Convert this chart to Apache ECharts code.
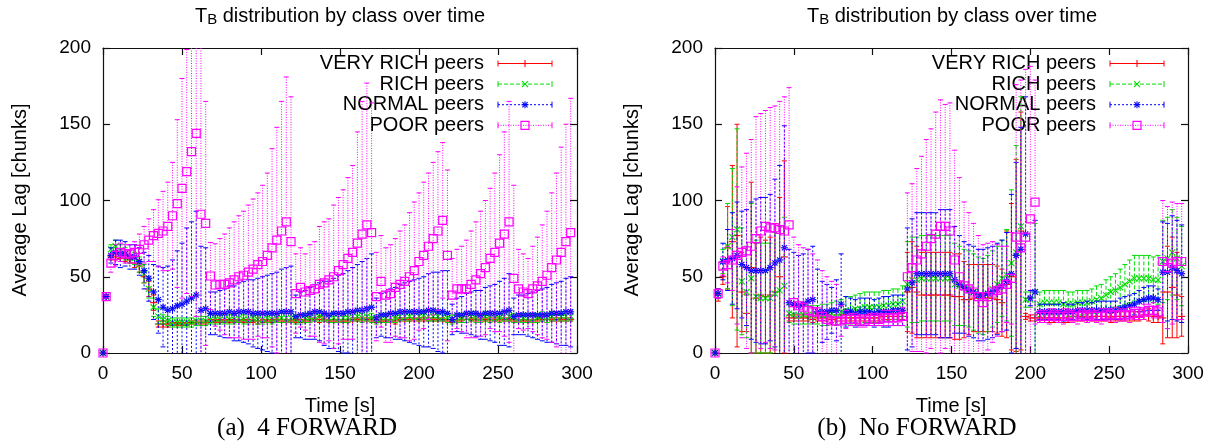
<!DOCTYPE html>
<html><head><meta charset="utf-8">
<script src="https://cdn.jsdelivr.net/npm/echarts@6/dist/echarts.min.js"></script>
<style>html,body{margin:0;padding:0;background:#fff}#c{width:1213px;height:445px}</style>
</head><body><div id="c"></div>
<script>
// ---------------- DATA ----------------
const times = [0,2,5,8,11,14,17,20,23,26, 29,32,35,38,41,44,47,50,53,56, 59,62,65,68,71,74,77,80,83,86,
 89,92,95,98,101,104,107,110,113,116, 119,122,125,128,131,134,137,140,143,146, 149,152,155,158,161,164,167,170,173,176,
 179,182,185,188,191,194,197,200,203,206, 209,212,215,218,221,224,227,230,233,236, 239,242,245,248,251,254,257,260,263,266,
 269,272,275,278,281,284,287,290,293,296];

const classNames = ['VERY RICH peers','RICH peers','NORMAL peers','POOR peers'];
const xTicks = [0,50,100,150,200,250,300];
const yTicks = [0,50,100,150,200];

// (a) 4 FORWARD
const aVeryRichMean = [0,37,63,63,62,62,61,59,57,50, 42,33,19,19,19,19,19,19,19,20, 20,20,20,21,21,21,21,21,21,21,
 21,21,21,21,21,21,21,22,21,21, 21,21,21,21,22,22,22,22,21,21, 21,21,21,22,22,22,22,22,21,21,
 21,21,21,22,22,22,22,22,22,22, 22,22,22,21,21,21,22,22,22,22, 22,22,22,22,22,22,22,21,21,21, 21,21,22,22,22,22,22,22,22,22];
const aVeryRichStd = [0,1,2,2,2,2,2,3,4,4, 5,5,2,2,2,1,1,1,1,1, 1,1,1,1,1,1,1,1,1,1, 1,1,1,2,1,1,1,1,1,1,
 1,1,1,1,1,1,2,1,1,1, 1,1,1,1,1,1,1,1,1,1, 1,1,2,1,1,1,1,1,1,1, 1,1,1,1,1,1,1,2,1,1, 1,1,1,1,1,1,1,1,1,1, 1,1,1,1,2,1,1,1,1,1];
const aRichMean = [0,37,68,70,67,65,63,62,58,52, 42,30,24,22,21,20,20,20,20,20, 21,21,21,22,22,22,22,22,22,23,
 22,22,23,22,22,23,22,23,23,23, 23,22,22,23,23,24,24,23,23,23, 23,23,23,24,24,23,24,23,22,23,
 23,23,23,24,24,24,24,24,25,24, 24,24,24,23,22,23,23,23,24,23, 23,24,23,23,23,24,24,23,23,23, 23,23,23,24,23,24,24,24,24,24];
const aRichStd = [0,1,3,4,4,4,4,4,5,6, 6,6,5,3,3,3,3,3,3,3, 3,3,3,3,3,3,3,3,3,3, 3,3,2,3,3,3,3,3,3,3,
 3,3,3,3,3,3,3,2,3,3, 3,3,3,3,3,3,3,3,3,3, 3,3,3,3,3,3,2,3,3,3, 3,3,3,3,3,3,3,3,3,3, 3,3,3,2,3,3,3,3,3,3, 3,3,3,3,3,3,3,3,3,3];
const aNormalMean = [0,37,64,66,65,65,63,63,60,54, 49,40,35,30,28,29,31,32,34,36, 38,28,29,26,26,26,26,27,26,27,
 27,27,26,26,26,26,26,26,27,27, 27,24,25,25,26,27,27,26,25,26, 26,26,27,27,28,28,29,30,23,25,
 25,26,26,27,27,27,27,27,27,28, 28,27,27,26,22,25,25,26,26,26, 25,26,26,26,26,27,28,24,25,25, 25,25,25,25,25,26,26,26,27,27];
const aNormalStd = [0,1,5,8,9,8,8,8,9,12, 15,18,22,26,29,32,36,40,48,50, 55,42,40,14,14,15,16,17,18,19,
 20,21,22,23,24,25,26,27,28,29, 30,14,15,16,17,18,19,21,22,23, 25,26,27,29,30,32,33,35,13,14,
 15,16,17,18,19,20,21,22,23,24, 25,26,27,28,10,11,12,13,14,15, 16,17,18,19,21,22,24,12,13,13, 14,15,16,17,18,19,20,21,22,23];
const aPoorMean = [0,37,59,64,66,65,65,66,68,71, 74,77,78.5,80,83,90,98,108,119,132, 144,91,85,50.5,44.6,45,45,46,48,50,
 51,53,55,58,60,64,69,74,80,86, 73,39,43,40,41,42,45,46,48,50, 54,58,62,66,72,78,84,79,37,47,
 38,39,43,45,47,50,54,60,64,70, 75,80,87,64,38,42,42,42,45,48, 52,56,62,66,72,78,86,49,42,40, 39,42,44,47,51,56,61,66,73,79];
const aPoorStd = [0,1,6,7,6,6,6,7,10,12, 14,17,22,26,29,35,55,72,80,95, 120,115,80,22,27,30,33,36,38,40,
 42,44,46,47,50,54,65,74,85,95, 95,26,26,25,30,31,38,40,40,47, 48,49,53,57,73,87,93,85,29,30,
 31,32,32,35,37,42,45,45,48,48, 50,52,51,56,24,26,28,32,35,38, 41,44,46,52,58,67,79,61,26,25, 23,28,32,37,42,49,57,69,77,88];

// (b) No FORWARD
const bVeryRichMean = [0,38,50,69,73,77,40,26,56,36, 38,37,38,40,50,63,23,23,23,23, 23,22,23,23,23,22,23,23,23,23,
 23,23,23,23,23,23,24,24,24,24, 24,40,43,40,38,38,38,38,38,38, 38,37,37,35,35,36,36,36,36,36,
 35,33,45,50,64,80,24,23,23,23, 23,23,23,23,23,23,24,24,24,23, 24,24,24,24,23,24,24,24,24,24, 24,25,25,24,24,23,40,43,38,24];
const bVeryRichStd = [0,4,5,27,50,73,26,12,56,36, 38,37,38,45,52,63,2,2,2,2, 2,2,2,2,2,2,2,2,2,2,
 2,2,2,2,2,2,2,2,2,2, 2,26,30,30,28,28,28,28,28,28, 28,28,28,25,23,22,22,22,22,22,
 22,22,35,48,63,78,2,2,2,3, 3,3,3,3,3,3,3,3,3,3, 3,3,3,3,3,3,3,3,3,3, 3,3,4,4,4,17,30,33,28,13];
const bRichMean = [0,39,60,70,76,81,47,40,49,37, 36,36,36,39,41,44,26,25,25,25, 25,25,25,25,25,26,26,27,28,28,
 29,29,30,30,30,30,31,31,32,32, 34,45,48,48,49,49,49,49,49,49, 49,45,44,43,42,40,38,37,39,42,
 45,49,51,59,66,83,35,35,40,32, 33,33,33,33,32,32,32,33,33,33, 34,35,36,38,40,41,43,45,47,49, 49,49,49,48,48,60,62,66,62,57];
const bRichStd = [0,3,8,28,45,66,35,30,49,37, 36,36,36,40,42,45,6,6,6,6, 6,6,6,7,7,7,8,8,9,9,
 9,10,10,10,10,10,10,10,10,10, 10,28,28,28,28,28,28,28,28,28, 28,27,26,25,25,25,25,25,25,25,
 25,25,30,48,70,85,5,5,45,8, 8,8,8,8,9,8,8,8,8,8, 8,9,9,10,10,11,12,13,14,15, 15,15,15,15,16,27,27,28,27,26];
const bNormalMean = [0,39,60,61,62,64,58,56,54,54, 54,54,56,59,61,69,33,32,31,32, 34,35,27,27,27,28,28,32,27,27,
 26,27,27,27,26,27,27,27,28,28, 28,42,46,52,52,52,52,52,52,52, 52,48,45,43,41,40,38,38,39,40,
 42,44,47,52,64,68,78,36,40,27, 27,27,27,27,27,27,27,28,28,28, 28,28,28,28,28,28,29,30,31,32, 34,35,36,36,35,53,53,56,54,52];
const bNormalStd = [0,3,12,20,30,35,35,38,45,47, 48,48,48,55,62,80,35,34,33,33, 34,35,28,20,18,15,20,33,10,9,
 9,9,9,9,9,9,10,10,10,10, 10,40,42,40,40,40,40,40,42,42, 42,35,32,30,30,30,30,30,30,30,
 30,30,32,52,61,80,90,5,47,5, 5,5,5,5,6,5,5,5,5,6, 5,6,6,6,6,6,7,7,7,7, 7,8,8,8,7,33,32,34,33,32];
const bPoorMean = [0,39,57,58,61,64,66,67,70,75, 80,83,82,82,81,80,84,33,31,30, 28,27,27,24,22,21,21,21,22,22,
 22,21,21,22,22,22,23,23,23,23, 24,50,56,61,65,70,75,78,83,83, 80,61,50,44,42,40,37,33,37,40,
 41,42,45,49,76,69,76,88,99,24, 24,24,25,24,24,25,24,24,25,24, 25,24,24,25,25,25,25,25,25,26, 26,27,28,28,27,60,56,59,60,60];
const bPoorStd = [0,3,6,12,20,45,56,64,70,80, 77,76,79,80,84,88,90,43,40,39, 40,38,34,30,28,26,24,10,6,4,
 4,4,4,4,4,4,5,5,5,5, 6,55,55,60,64,70,72,80,83,80, 84,72,65,55,50,45,40,38,35,33,
 30,28,25,30,100,110,110,100,80,4, 4,5,4,4,5,4,4,5,4,4, 4,4,5,4,4,5,4,4,5,4, 4,5,4,5,4,40,40,40,38,38];

// ---------------- STYLE ----------------
const FONT = "'Liberation Sans', Arial, Helvetica, sans-serif";
const SERIF = "'Liberation Serif', 'Times New Roman', serif";
const Y_MIN = 0, Y_MAX = 200;
const seriesStyle = [
  {color:'#ff0000', dash:null,   marker:'plus'},
  {color:'#00dd00', dash:[4,2],  marker:'cross'},
  {color:'#0000ff', dash:[2,2],  marker:'star'},
  {color:'#ff00ff', dash:[1,1.5],marker:'square'}
];

function L(x1,y1,x2,y2,st){ return {type:'line', shape:{x1:x1,y1:y1,x2:x2,y2:y2}, style:st}; }
function markerEls(kind, cx, cy, color){
  const st = {stroke:color, lineWidth:1.1};
  if (kind==='plus') return [L(cx-3.5,cy,cx+3.5,cy,st), L(cx,cy-3.5,cx,cy+3.5,st)];
  if (kind==='cross') return [L(cx-3,cy-3,cx+3,cy+3,st), L(cx-3,cy+3,cx+3,cy-3,st)];
  if (kind==='star') return [L(cx-3.5,cy,cx+3.5,cy,st), L(cx,cy-3.5,cx,cy+3.5,st),
                             L(cx-2.6,cy-2.6,cx+2.6,cy+2.6,st), L(cx-2.6,cy+2.6,cx+2.6,cy-2.6,st)];
  return [{type:'rect', shape:{x:cx-4,y:cy-4,width:8,height:8}, style:{stroke:color,lineWidth:1.2,fill:'none'}}];
}

function makeRender(sty){
  return function(params, api){
    const t = api.value(0), m = api.value(1), s = api.value(2);
    const els = [];
    const lineSt = {stroke:sty.color, lineWidth:1, lineDash:sty.dash};
    const capSt = {stroke:sty.color, lineWidth:1};
    if (s > 0) {
      const hi = m + s, lo = m - s;
      const top = api.coord([t, Math.min(hi, Y_MAX)]);
      const bot = api.coord([t, Math.max(lo, Y_MIN)]);
      els.push(L(top[0],top[1],bot[0],bot[1],lineSt));
      if (hi <= Y_MAX) els.push(L(top[0]-2.5,top[1],top[0]+2.5,top[1],capSt));
      if (lo >= Y_MIN) els.push(L(bot[0]-2.5,bot[1],bot[0]+2.5,bot[1],capSt));
    }
    const p = api.coord([t, m]);
    markerEls(sty.marker, p[0], p[1], sty.color).forEach(e => els.push(e));
    return {type:'group', children:els};
  };
}

function buildData(means, stds){ return times.map((t,i)=>[t, means[i], stds[i]]); }

const chartSets = [
  {grid:0, sets:[[aVeryRichMean,aVeryRichStd],[aRichMean,aRichStd],[aNormalMean,aNormalStd],[aPoorMean,aPoorStd]]},
  {grid:1, sets:[[bVeryRichMean,bVeryRichStd],[bRichMean,bRichStd],[bNormalMean,bNormalStd],[bPoorMean,bPoorStd]]}
];

const series = [];
chartSets.forEach(cs => {
  cs.sets.forEach((pair, k) => {
    series.push({
      type:'custom', name:classNames[k], xAxisIndex:cs.grid, yAxisIndex:cs.grid,
      renderItem: makeRender(seriesStyle[k]), data: buildData(pair[0], pair[1]),
      encode:{x:0, y:1}, silent:true, z:2+k
    });
  });
});

function xAx(grid, pos, showLabel){
  return {type:'value', gridIndex:grid, position:pos, min:xTicks[0], max:xTicks[xTicks.length-1], interval:50,
    axisLine:{show:true, onZero:false, lineStyle:{color:'#111', width:1.2}},
    axisTick:{show:true, inside:true, length:7, lineStyle:{color:'#111', width:1.2}},
    axisLabel:{show:showLabel, margin:11, fontSize:19, color:'#000', fontFamily:FONT},
    splitLine:{show:false}};
}
function yAx(grid, pos, showLabel){
  return {type:'value', gridIndex:grid, position:pos, min:yTicks[0], max:yTicks[yTicks.length-1], interval:50,
    axisLine:{show:true, onZero:false, lineStyle:{color:'#111', width:1.2}},
    axisTick:{show:true, inside:true, length:7, lineStyle:{color:'#111', width:1.2}},
    axisLabel:{show:showLabel, margin:12, fontSize:19, color:'#000', fontFamily:FONT},
    splitLine:{show:false}};
}

// ---------------- GRAPHIC TEXT / LEGEND ----------------
const g = [];
function titleEl(cx){
  return {type:'text', x:cx, y:16, style:{
    text:'{t|T}{s|B}{t| distribution by class over time}', align:'center', verticalAlign:'middle',
    fill:'#000', fontFamily:FONT,
    rich:{t:{fontSize:20, lineHeight:22, fontFamily:FONT, fill:'#000'},
          s:{fontSize:15, lineHeight:12, verticalAlign:'bottom', fontFamily:FONT, fill:'#000'}}}};
}
g.push(titleEl(340), titleEl(952));
[[20,'Average Lag [chunks]'],[632,'Average Lag [chunks]']].forEach(([x,txt]) => {
  g.push({type:'text', x:x, y:200, rotation:Math.PI/2, style:{text:txt, align:'center', verticalAlign:'middle', fontSize:20, fontFamily:FONT, fill:'#000'}});
});
[340, 951].forEach(x => g.push({type:'text', x:x, y:406, style:{text:'Time [s]', align:'center', verticalAlign:'middle', fontSize:20, fontFamily:FONT, fill:'#000'}}));
g.push({type:'text', x:307, y:428, style:{text:'(a)  4 FORWARD', align:'center', verticalAlign:'middle', fontSize:25, fontFamily:SERIF, fill:'#000'}});
g.push({type:'text', x:917, y:428, style:{text:'(b)  No FORWARD', align:'center', verticalAlign:'middle', fontSize:25, fontFamily:SERIF, fill:'#000'}});

function legend(textRight, x0, x1){
  classNames.forEach((name, i) => {
    const y = 63.5 + i*20.6, sty = seriesStyle[i];
    g.push({type:'text', x:textRight, y:y, z:1, style:{text:name, align:'right', verticalAlign:'middle', fontSize:20, fontFamily:FONT, fill:'#000'}});
    g.push(Object.assign(L(x0,y,x1,y,{stroke:sty.color, lineWidth:1, lineDash:sty.dash}),{z:1}));
    g.push(Object.assign(L(x0,y-3,x0,y+3,{stroke:sty.color, lineWidth:1}),{z:1}));
    g.push(Object.assign(L(x1,y-3,x1,y+3,{stroke:sty.color, lineWidth:1}),{z:1}));
    markerEls(sty.marker, (x0+x1)/2, y, sty.color).forEach(e => g.push(Object.assign(e,{z:1})));
  });
}
legend(484, 498, 552);
legend(1096, 1110, 1164);

const chart = echarts.init(document.getElementById('c'), null, {renderer:'canvas'});
chart.setOption({
  animation:false,
  backgroundColor:'#fff',
  grid:[{left:103, top:48, width:474, height:305}, {left:715, top:48, width:473, height:305}],
  xAxis:[xAx(0,'bottom',true), xAx(1,'bottom',true), xAx(0,'top',false), xAx(1,'top',false)],
  yAxis:[yAx(0,'left',true), yAx(1,'left',true), yAx(0,'right',false), yAx(1,'right',false)],
  series:series,
  graphic:{elements:g}
});
</script></body></html>
